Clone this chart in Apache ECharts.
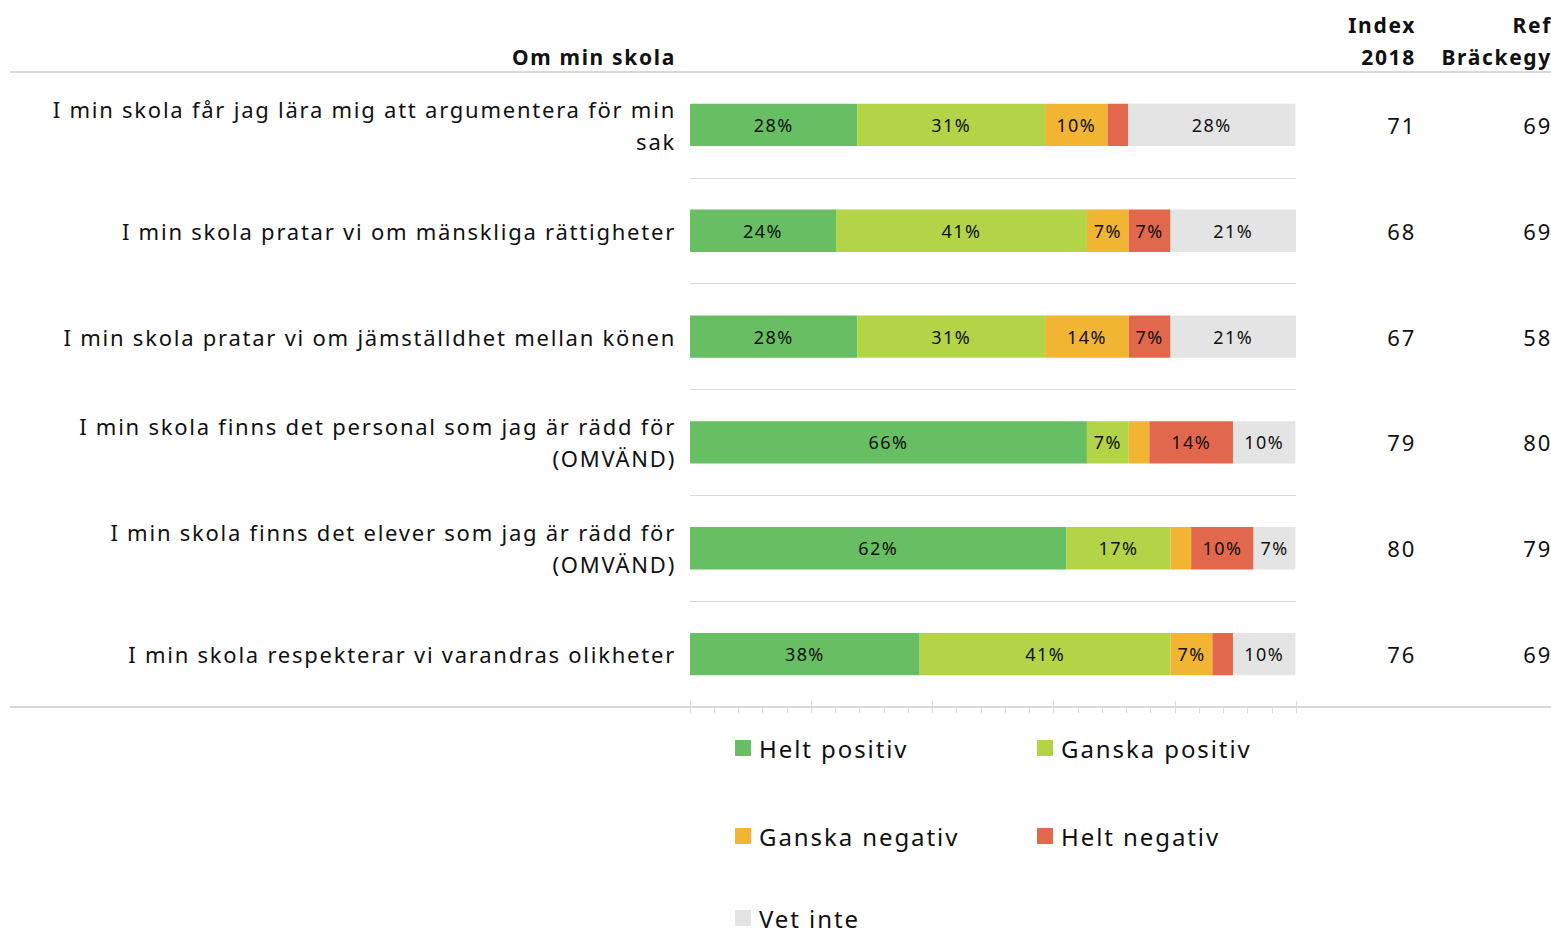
<!doctype html>
<html lang="sv">
<head>
<meta charset="utf-8">
<script src="https://cdn.jsdelivr.net/npm/echarts@6/dist/echarts.min.js"></script>
<style>
    html, body { margin: 0; padding: 0; background: #fff; }
    #chart { width: 1551px; height: 936px; }
    /* spärrad text som i originalet */
    #chart svg text { letter-spacing: 0.08em; }
</style>
</head>
<body>
<div id="chart"></div>
<script>
    // frågor (uppifrån och ned)
    let questions = [
        'I min skola får jag lära mig att argumentera för min\nsak',
        'I min skola pratar vi om mänskliga rättigheter',
        'I min skola pratar vi om jämställdhet mellan könen',
        'I min skola finns det personal som jag är rädd för\n(OMVÄND)',
        'I min skola finns det elever som jag är rädd för\n(OMVÄND)',
        'I min skola respekterar vi varandras olikheter'
    ];
    // andelar i procent
    let heltPositiv = [27.6, 24.1, 27.6, 65.5, 62.1, 37.9];
    let ganskaPositiv = [31.0, 41.4, 31.0, 6.9, 17.2, 41.4];
    let ganskaNegativ = [10.3, 6.9, 13.8, 3.4, 3.4, 6.9];
    let heltNegativ = [3.4, 6.9, 6.9, 13.8, 10.3, 3.4];
    let vetInte = [27.6, 20.7, 20.7, 10.3, 6.9, 10.3];
    let index2018 = [71, 68, 67, 79, 80, 76];
    let refBrackegy = [69, 69, 58, 80, 79, 69];

    let seriesNames = ['Helt positiv', 'Ganska positiv', 'Ganska negativ', 'Helt negativ', 'Vet inte'];
    let seriesData = [heltPositiv, ganskaPositiv, ganskaNegativ, heltNegativ, vetInte];
    let colors = ['#67BE63', '#B3D446', '#F2B433', '#E1684C', '#E4E4E4'];

    let font = 'Noto Sans';
    let lineColor = '#D9D9D9';

    let chart = echarts.init(document.getElementById('chart'), null, {renderer: 'svg'});

    let series = [];
    for (let i = 0; i < seriesNames.length; i++) {
        series.push({
            name: seriesNames[i],
            type: 'bar',
            stack: 'total',
            barWidth: '40%',
            data: seriesData[i],
            itemStyle: {color: colors[i]},
            label: {
                show: true,
                position: 'inside',
                color: '#111',
                fontFamily: font,
                fontSize: 18,
                formatter: function (p) {
                    return p.value >= 5 ? Math.round(p.value) + '%' : '';
                }
            }
        });
    }

    // en legend per post så att kolumnerna hamnar rätt
    let legendPos = [[735, 736], [1037, 736], [735, 824], [1037, 824], [735, 906]];
    let legends = [];
    for (let i = 0; i < seriesNames.length; i++) {
        legends.push({
            left: legendPos[i][0],
            top: legendPos[i][1],
            padding: 0,
            data: [seriesNames[i]],
            icon: 'rect',
            itemWidth: 16,
            itemHeight: 16,
            itemGap: 0,
            selectedMode: false,
            textStyle: {fontFamily: font, fontSize: 24, color: '#111', padding: [0, 0, 0, 3]}
        });
    }

    let headerFont = 'bold 21px "Noto Sans"';

    let option = {
        animation: false,
        color: colors,
        grid: {left: 690, right: 255, top: 72, bottom: 229, outerBoundsMode: 'none'},
        xAxis: [{
            type: 'value',
            min: 0,
            max: 100,
            interval: 20,
            axisLabel: {show: false},
            axisLine: {show: true, lineStyle: {color: lineColor, width: 2}},
            axisTick: {show: true, length: 6, lineStyle: {color: lineColor}},
            minorTick: {show: true, splitNumber: 5, length: 6, lineStyle: {color: lineColor}},
            splitLine: {show: false}
        }, {
            type: 'value',
            position: 'bottom',
            min: 0,
            max: 100,
            interval: 20,
            axisLabel: {show: false},
            axisLine: {show: false},
            axisTick: {show: true, inside: true, length: 6, lineStyle: {color: lineColor}},
            splitLine: {show: false}
        }],
        yAxis: [{
            type: 'category',
            inverse: true,
            data: questions,
            axisLine: {show: false},
            axisTick: {show: false},
            splitLine: {show: true, lineStyle: {color: lineColor, width: 1}},
            axisLabel: {
                margin: 14,
                color: '#111',
                fontFamily: font,
                fontSize: 22,
                lineHeight: 32,
                align: 'right'
            }
        }, {
            type: 'category',
            inverse: true,
            position: 'right',
            data: index2018.map(String),
            axisLine: {show: false},
            axisTick: {show: false},
            axisLabel: {margin: 120, align: 'right', color: '#111', fontFamily: font, fontSize: 22}
        }, {
            type: 'category',
            inverse: true,
            position: 'right',
            data: refBrackegy.map(String),
            axisLine: {show: false},
            axisTick: {show: false},
            axisLabel: {margin: 256, align: 'right', color: '#111', fontFamily: font, fontSize: 22}
        }],
        legend: legends,
        graphic: [
            {type: 'line', shape: {x1: 10, y1: 72, x2: 1551, y2: 72}, style: {stroke: lineColor, lineWidth: 2}},
            {type: 'line', shape: {x1: 10, y1: 707, x2: 1551, y2: 707}, style: {stroke: lineColor, lineWidth: 2}},
            {type: 'text', x: 676, y: 57, style: {text: 'Om min skola', align: 'right', verticalAlign: 'middle', font: headerFont, fill: '#111'}},
            {type: 'text', x: 1416, y: 25, style: {text: 'Index', align: 'right', verticalAlign: 'middle', font: headerFont, fill: '#111'}},
            {type: 'text', x: 1416, y: 57, style: {text: '2018', align: 'right', verticalAlign: 'middle', font: headerFont, fill: '#111'}},
            {type: 'text', x: 1552, y: 25, style: {text: 'Ref', align: 'right', verticalAlign: 'middle', font: headerFont, fill: '#111'}},
            {type: 'text', x: 1552, y: 57, style: {text: 'Bräckegy', align: 'right', verticalAlign: 'middle', font: headerFont, fill: '#111'}}
        ],
        series: series
    };

    chart.setOption(option);
</script>
</body>
</html>
